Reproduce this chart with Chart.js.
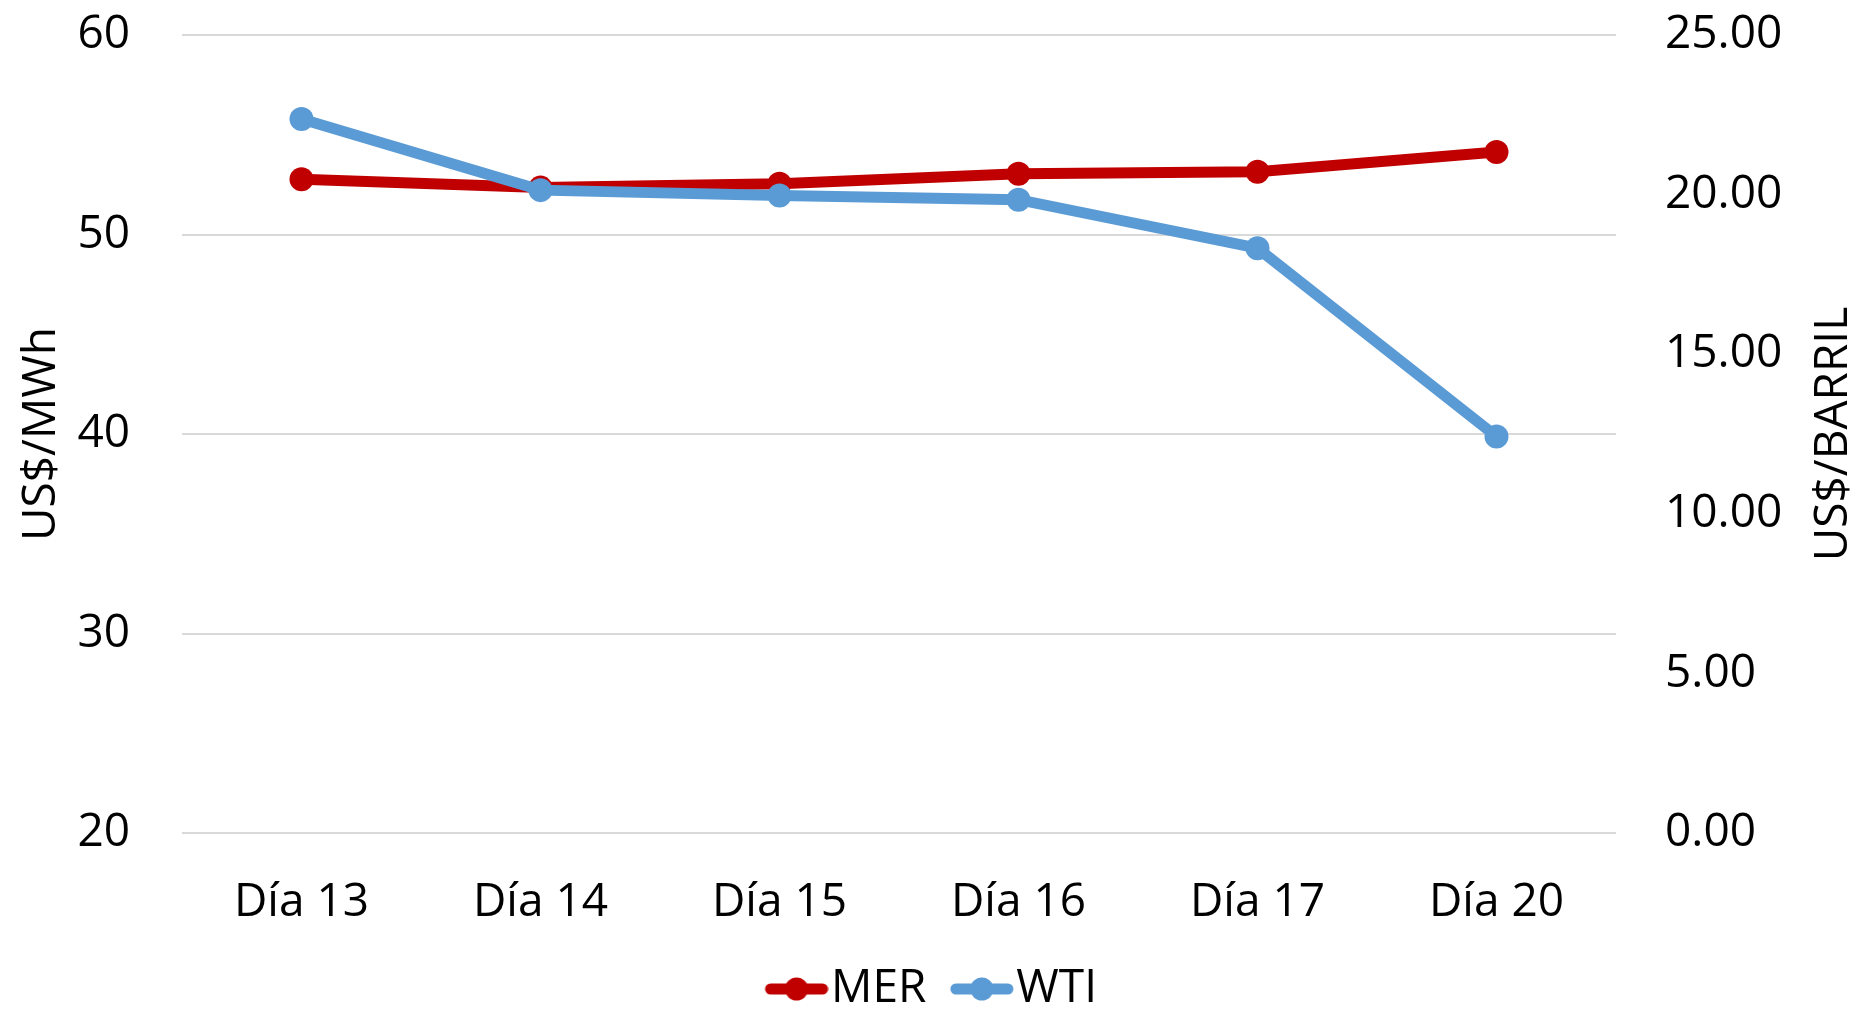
<!DOCTYPE html>
<html>
<head>
<meta charset="utf-8">
<script src="https://cdn.jsdelivr.net/npm/chart.js@4"></script>
<style>
  html, body { margin: 0; padding: 0; background: #ffffff; }
  canvas { display: block; }
</style>
</head>
<body>
<canvas id="chart" width="1862" height="1010"></canvas>
<script>
// Chart data
const categories = ['Día 13', 'Día 14', 'Día 15', 'Día 16', 'Día 17', 'Día 20'];
const merValues = [52.77, 52.35, 52.55, 53.05, 53.15, 54.14];
const wtiValues = [22.37, 20.14, 19.97, 19.84, 18.32, 12.42];
const leftTicks = [20, 30, 40, 50, 60];
const rightTicks = [0, 5, 10, 15, 20, 25];

const RED = '#C00000';
const BLUE = '#5B9BD5';
const FONT = "'Open Sans', sans-serif";

// Legend symbol: short thick line with a dot in the middle.
// The image has a transparent left margin so the symbol sits right before the text.
function legendSymbol(color) {
    const c = document.createElement('canvas');
    c.width = 84;
    c.height = 26;
    const ctx = c.getContext('2d');
    ctx.strokeStyle = color;
    ctx.lineWidth = 11;
    ctx.lineCap = 'round';
    ctx.beginPath();
    ctx.moveTo(26, 13);
    ctx.lineTo(78, 13);
    ctx.stroke();
    ctx.fillStyle = color;
    ctx.beginPath();
    ctx.arc(52, 13, 11.5, 0, Math.PI * 2);
    ctx.fill();
    return c;
}
const symbols = [legendSymbol(RED), legendSymbol(BLUE)];

// Right axis title reads bottom-to-top, so draw it by hand
const rightTitle = {
    id: 'rightTitle',
    afterDraw(chart) {
        const area = chart.chartArea;
        const c = chart.ctx;
        c.save();
        c.translate(1834, (area.top + area.bottom) / 2);
        c.rotate(-Math.PI / 2);
        c.font = "46px " + FONT;
        c.fillStyle = '#000000';
        c.textAlign = 'center';
        c.textBaseline = 'middle';
        c.fillText('US$/BARRIL', 0, 0);
        c.restore();
    }
};

const ctx = document.getElementById('chart').getContext('2d');
const chart = new Chart(ctx, {
    type: 'line',
    data: {
        labels: categories,
        datasets: [
            {
                label: 'MER',
                data: merValues,
                yAxisID: 'y',
                borderColor: RED,
                backgroundColor: RED,
                borderWidth: 11,
                pointRadius: 12,
                pointHoverRadius: 12,
                pointBorderWidth: 0,
                tension: 0,
                order: 2
            },
            {
                label: 'WTI',
                data: wtiValues,
                yAxisID: 'y1',
                borderColor: BLUE,
                backgroundColor: BLUE,
                borderWidth: 11,
                pointRadius: 12,
                pointHoverRadius: 12,
                pointBorderWidth: 0,
                tension: 0,
                order: 1
            }
        ]
    },
    plugins: [rightTitle],
    options: {
        responsive: false,
        animation: false,
        devicePixelRatio: 1,
        layout: {
            padding: { top: 35, left: 0, right: 0, bottom: -12 }
        },
        plugins: {
            tooltip: { enabled: false },
            legend: {
                position: 'bottom',
                labels: {
                    usePointStyle: true,
                    pointStyleWidth: 43,
                    padding: 24,
                    color: '#000000',
                    font: { family: FONT, size: 46 },
                    sort: (a, b) => a.datasetIndex - b.datasetIndex,
                    generateLabels: function(chart) {
                        const items = Chart.defaults.plugins.legend.labels.generateLabels(chart);
                        items.forEach(item => { item.pointStyle = symbols[item.datasetIndex]; });
                        return items;
                    }
                }
            }
        },
        scales: {
            x: {
                offset: true,
                grid: { display: false, drawTicks: false },
                border: { display: false },
                ticks: {
                    color: '#000000',
                    padding: 42,
                    font: { family: FONT, size: 46 }
                },
                afterFit: function(scale) { scale.height = 109; }
            },
            y: {
                position: 'left',
                min: 20,
                max: 60,
                afterBuildTicks: function(scale) {
                    scale.ticks = leftTicks.map(v => ({ value: v }));
                },
                grid: { color: '#D9D9D9', lineWidth: 2, drawTicks: true, tickLength: 52, tickColor: 'rgba(0,0,0,0)' },
                border: { display: false },
                ticks: {
                    color: '#000000',
                    padding: 0,
                    font: { family: FONT, size: 46 }
                },
                title: {
                    display: true,
                    text: 'US$/MWh',
                    color: '#000000',
                    padding: { top: 14, bottom: 0 },
                    font: { family: FONT, size: 46 }
                },
                afterFit: function(scale) { scale.width = 182; }
            },
            y1: {
                position: 'right',
                min: 0,
                max: 25,
                afterBuildTicks: function(scale) {
                    scale.ticks = rightTicks.map(v => ({ value: v }));
                },
                grid: { drawOnChartArea: false, drawTicks: true, tickLength: 49, color: 'rgba(0,0,0,0)', tickColor: 'rgba(0,0,0,0)' },
                border: { display: false },
                ticks: {
                    color: '#000000',
                    padding: 0,
                    font: { family: FONT, size: 46 },
                    callback: function(value) { return Number(value).toFixed(2); }
                },
                afterFit: function(scale) { scale.width = 246; }
            }
        }
    }
});
</script>
</body>
</html>
